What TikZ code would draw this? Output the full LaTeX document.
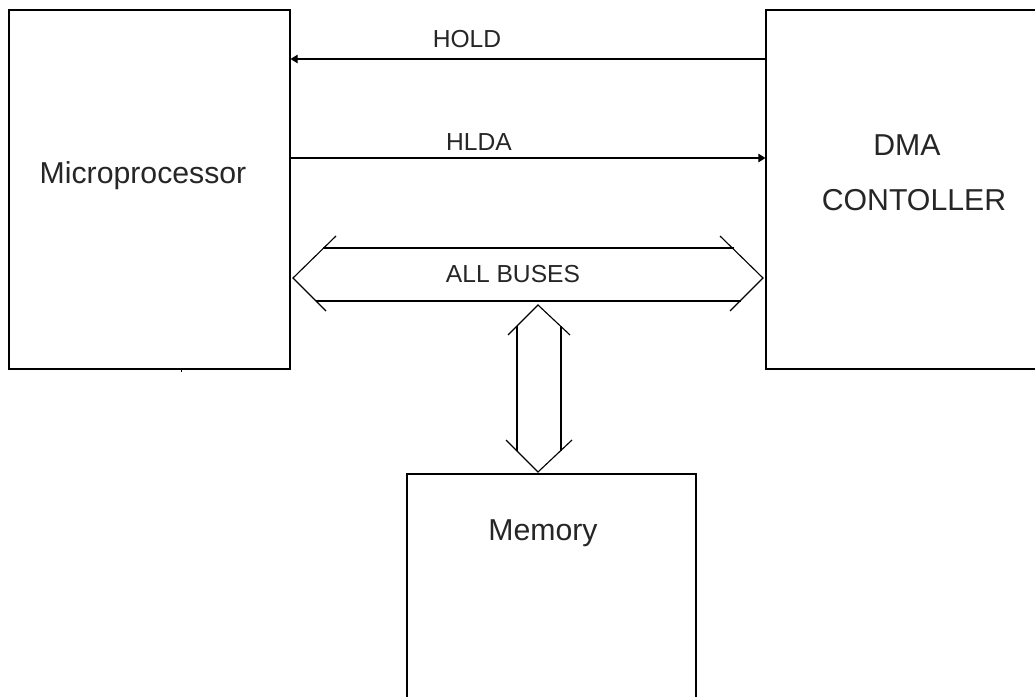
\documentclass[tikz,border=0pt]{standalone}
\usepackage{fontspec}
\setmainfont{Liberation Sans}
\usetikzlibrary{arrows.meta}
\begin{document}
\begin{tikzpicture}[x=0.025cm,y=-0.025cm,
  line width=0.8pt,
  boxnode/.style={draw,line width=0.8pt,inner sep=0pt,anchor=center},
  bigtext/.style={anchor=base,inner sep=0pt,text=black!85,font=\fontsize{21.5pt}{26pt}\selectfont},
  smalltext/.style={anchor=base,inner sep=0pt,text=black!85,font=\fontsize{17.5pt}{21pt}\selectfont},
  sigarrow/.style={-{Triangle[length=5pt,width=6pt]},line width=0.8pt}]
\clip (0,0) rectangle (1035,697);
\fill[white] (0,0) rectangle (1035,697);
% boxes
\node[boxnode,minimum width=281*0.025cm,minimum height=359*0.025cm] (mp) at (149.5,189.5) {};
\node[boxnode,minimum width=280*0.025cm,minimum height=359*0.025cm] (dma) at (906,189.5) {};
\node[boxnode,minimum width=289*0.025cm,minimum height=250*0.025cm] (mem) at (551.5,599) {};
% texts
\node[bigtext] (mptext) at (143,183) {Microprocessor};
\node[bigtext] (dmatext1) at (907,155) {DMA};
\node[bigtext] (dmatext2) at (914,210) {CONTOLLER};
\node[bigtext] (memtext) at (543,540) {Memory};
\node[smalltext] (holdtext) at (467,48) {HOLD};
\node[smalltext] (hldatext) at (479,150) {HLDA};
\node[smalltext] (bustext) at (513,282) {ALL BUSES};
% signal arrows
\draw[sigarrow] (dma.west |- 0,59) -- (mp.east |- 0,59);
\draw[sigarrow] (mp.east |- 0,158) -- (dma.west |- 0,158);
% all buses double arrow
\coordinate (bl) at (293,278);
\coordinate (br) at (763,278);
\draw (336,236) -- (bl) -- (326,311);
\draw (720,236) -- (br) -- (730,311);
\draw (323,248) -- (734,248);
\draw (316,301) -- (741,301);
% memory bus double arrow
\coordinate (vt) at (538,305);
\coordinate (vb) at (538,472);
\draw (508,335) -- (vt) -- (570,335);
\draw (506,440) -- (vb) -- (572,440);
\draw (517,326) -- (517,451);
\draw (561,326) -- (561,451);
% small tick
\draw[line width=0.6pt] (181,369) -- (181,372);
\end{tikzpicture}
\end{document}
